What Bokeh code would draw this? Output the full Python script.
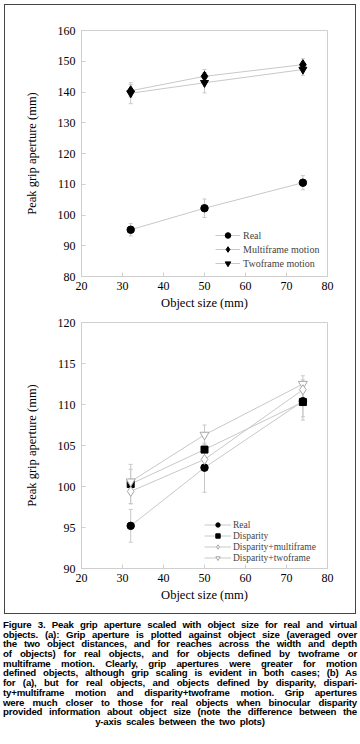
from bokeh.plotting import figure
from bokeh.models import (ColumnDataSource, Whisker, TeeHead, Legend, LegendItem,
                          Div, Range1d, FixedTicker)
from bokeh.layouts import column
from bokeh.embed import file_html
from bokeh.resources import INLINE

# ---------------- data ----------------
sizes = [32, 50, 74]

# Plot (a)
real_a = [95.2, 102.2, 110.5]
real_a_err = [2.0, 3.0, 2.3]
multi_a = [140.4, 145.1, 148.9]
multi_a_err = [2.0, 2.2, 1.9]
two_a = [139.6, 143.0, 147.3]
two_a_err = [3.4, 3.3, 1.9]

# Plot (b)
real_b = [95.2, 102.3, 110.4]
real_b_err = [2.0, 3.0, 2.3]
disp_b = [100.3, 104.5, 110.3]
disp_b_err = [2.4, 1.5, 1.8]
dmulti_b = [99.4, 103.3, 111.8]
dmulti_b_err = [1.5, 1.2, 1.2]
dtwo_b = [100.6, 106.3, 112.5]
dtwo_b_err = [1.5, 1.2, 1.0]

x_ticks = [20, 30, 40, 50, 60, 70, 80]
y_ticks_a = [80, 90, 100, 110, 120, 130, 140, 150, 160]
y_ticks_b = [90, 95, 100, 105, 110, 115, 120]

caption_lines = [
    "Figure 3. Peak grip aperture scaled with object size for real and virtual",
    "objects. (a): Grip aperture is plotted against object size (averaged over",
    "the two object distances, and for reaches across the width and depth",
    "of objects) for real objects, and for objects defined by twoframe or",
    "multiframe motion. Clearly, grip apertures were greater for motion",
    "defined objects, although grip scaling is evident in both cases; (b) As",
    "for (a), but for real objects, and objects defined by disparity, dispari-",
    "ty+multiframe motion and disparity+twoframe motion. Grip apertures",
    "were much closer to those for real objects when binocular disparity",
    "provided information about object size (note the difference between the",
    "y-axis scales between the two plots)",
]

SERIF = "Liberation Serif"
GRAY = "#c8c8c8"
AXGRAY = "#cfcfcf"


def make_fig(height, yr, yticks, top, bottom):
    p = figure(width=350, height=height, output_backend="svg", toolbar_location=None,
               x_range=Range1d(20, 80), y_range=Range1d(*yr),
               min_border_left=76, min_border_right=28,
               min_border_top=top, min_border_bottom=bottom)
    p.xgrid.visible = False
    p.ygrid.visible = False
    p.outline_line_color = AXGRAY
    p.xaxis.ticker = FixedTicker(ticks=x_ticks)
    p.yaxis.ticker = FixedTicker(ticks=yticks)
    for ax in (p.xaxis[0], p.yaxis[0]):
        ax.axis_line_color = AXGRAY
        ax.major_tick_line_color = AXGRAY
        ax.major_tick_in = 4
        ax.major_tick_out = 0
        ax.minor_tick_line_color = None
        ax.major_label_text_font = SERIF
        ax.major_label_text_font_size = "12px"
        ax.major_label_text_color = "black"
        ax.axis_label_text_font = SERIF
        ax.axis_label_text_font_size = "12.5px"
        ax.axis_label_text_font_style = "normal"
        ax.axis_label_text_color = "black"
    p.xaxis.axis_label = "Object size (mm)"
    p.yaxis.axis_label = "Peak grip aperture (mm)"
    p.xaxis.major_label_standoff = 5
    p.xaxis.axis_label_standoff = 3
    p.yaxis.major_label_standoff = 6
    p.yaxis.axis_label_standoff = 16
    p.background_fill_color = "white"
    p.border_fill_color = "white"
    return p


def series(p, ys, errs, marker, size, fill, line):
    src = ColumnDataSource(dict(x=sizes, y=ys,
                                upper=[a + b for a, b in zip(ys, errs)],
                                lower=[a - b for a, b in zip(ys, errs)]))
    w = Whisker(source=src, base="x", upper="upper", lower="lower",
                line_color=GRAY, line_width=1,
                upper_head=TeeHead(size=4, line_color=GRAY),
                lower_head=TeeHead(size=4, line_color=GRAY))
    p.add_layout(w)
    ln = p.line("x", "y", source=src, line_color=GRAY, line_width=1)
    sc = p.scatter("x", "y", source=src, marker=marker, size=size,
                   fill_color=fill, line_color=line, line_width=1)
    return ln, sc


# ---------------- plot (a) ----------------
pa = make_fig(307, (80, 160), y_ticks_a, 25, 35)
r_ln, r_sc = series(pa, real_a, real_a_err, "circle", 7.5, "black", "black")
t_ln, t_sc = series(pa, two_a, two_a_err, "inverted_triangle", 8, "black", "black")
m_ln, m_sc = series(pa, multi_a, multi_a_err, "diamond", 10, "black", "black")
leg_a = Legend(items=[LegendItem(label="Real", renderers=[r_ln, r_sc]),
                      LegendItem(label="Multiframe motion", renderers=[m_ln, m_sc]),
                      LegendItem(label="Twoframe motion", renderers=[t_ln, t_sc])],
               location=(134, 6), padding=0, margin=0, spacing=0,
               glyph_width=25, glyph_height=14, label_height=14, label_standoff=3,
               background_fill_alpha=0, border_line_color=None,
               label_text_font=SERIF, label_text_font_size="10px")
pa.add_layout(leg_a)

# ---------------- plot (b) ----------------
pb = make_fig(301, (90, 120), y_ticks_b, 10, 45)
rb_ln, rb_sc = series(pb, real_b, real_b_err, "circle", 7.5, "black", "black")
db_ln, db_sc = series(pb, disp_b, disp_b_err, "square", 7, "black", "black")
tb_ln, tb_sc = series(pb, dtwo_b, dtwo_b_err, "inverted_triangle", 9, "white", "#a8a8a8")
mb_ln, mb_sc = series(pb, dmulti_b, dmulti_b_err, "diamond", 10, "white", "#a8a8a8")
leg_b = Legend(items=[LegendItem(label="Real", renderers=[rb_ln, rb_sc]),
                      LegendItem(label="Disparity", renderers=[db_ln, db_sc]),
                      LegendItem(label="Disparity+multiframe", renderers=[mb_ln, mb_sc]),
                      LegendItem(label="Disparity+twoframe", renderers=[tb_ln, tb_sc])],
               location=(123, 5), padding=0, margin=0, spacing=0,
               glyph_width=27, glyph_height=11, label_height=11, label_standoff=2,
               background_fill_alpha=0, border_line_color=None,
               label_text_font=SERIF, label_text_font_size="9.5px")
pb.add_layout(leg_b)

# ---------------- caption ----------------
rows = []
for i, ln in enumerate(caption_lines):
    if i == len(caption_lines) - 1:
        rows.append(f'<div style="text-align:center;word-spacing:2px;white-space:nowrap;'
                    f'height:9.7px">{ln}</div>')
    else:
        rows.append(f'<div style="text-align:justify;text-align-last:justify;white-space:nowrap;'
                    f'height:9.7px">{ln}</div>')
cap_html = ('<div style="font-family:\'Liberation Sans\',Arial,sans-serif;font-weight:bold;'
            'font-size:9.7px;line-height:9.7px;letter-spacing:-0.2px;color:black;'
            'width:354px;padding-top:2px">'
            + "".join(rows) + "</div>")
cap = Div(text=cap_html, width=354, height=114, margin=(0, 0, 0, -1))

box = column(pa, pb, spacing=0, width=352, height=610,
             styles={"border": "1px solid #444", "box-sizing": "border-box"})
root = column(box, cap, spacing=4, margin=(4, 0, 0, 4))

open("out.html", "w").write(file_html(root, INLINE))
